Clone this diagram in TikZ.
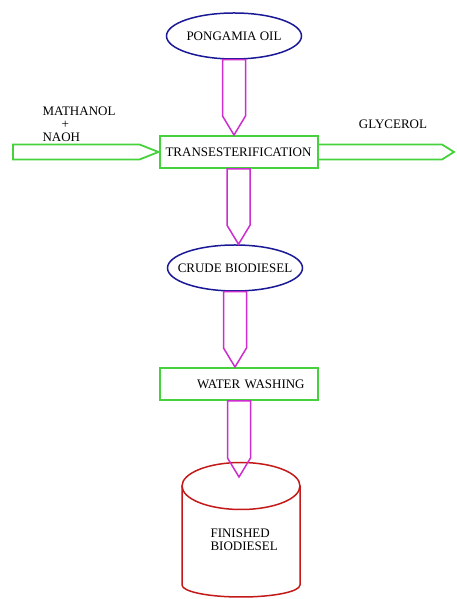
\documentclass[tikz,border=0pt]{standalone}
\usepackage{fontspec}
\setmainfont{Liberation Serif}
\usetikzlibrary{shapes.geometric,calc}

\definecolor{pipepink}{RGB}{205,45,205}
\definecolor{boxgreen}{RGB}{70,210,60}
\definecolor{tankred}{RGB}{195,25,25}
\definecolor{feedblue}{RGB}{25,25,150}

\newcommand{\flowdown}[2]{%
    \draw[flowpipe] ($(#1)+(-11.5,0)$) -- ($(#1 |- #2)+(-11.5,19)$) -- (#1 |- #2)
        -- ($(#1 |- #2)+(11.5,19)$) -- ($(#1)+(11.5,0)$) -- cycle;
}

\begin{document}
\begin{tikzpicture}[x=1pt,y=1pt,
    every node/.style={font=\fontsize{13}{13}\selectfont},
    feed/.style={draw=feedblue,line width=1.5pt,ellipse,inner sep=0pt,minimum width=135pt,minimum height=46pt},
    stage/.style={draw=boxgreen,line width=2pt,inner sep=0pt,minimum width=158pt,minimum height=32pt},
    flowpipe/.style={draw=pipepink,line width=1.5pt},
    sidepipe/.style={draw=boxgreen,line width=1.8pt}]
    \useasboundingbox (0,0) rectangle (456,599);
    \node[feed] (oil) at (234,563) {\makebox[60pt]{PONGAMIA OIL}};
    \node[stage] (trans) at (238.5,447) {TRANSESTERIFICATION};
    \node[feed] (crude) at (235,331) {\makebox[60pt]{CRUDE BIODIESEL}};
    \node[stage,text width=150pt,align=left] (wash) at (239,215) {\hspace*{33pt}WATER WASHING};
    \node[align=left,anchor=north west] (methanol) at (39,496) {MATHANOL\\\hspace*{19pt}+\\NAOH};
    \node (glycerol) at (393,475) {GLYCEROL};
    \coordinate (inlet) at (13,447);
    \coordinate (outlet) at (454,447);
    \coordinate (tanktop) at (241,122);
    % storage tank
    \draw[tankred,line width=1.5pt] (241,113) ellipse [x radius=59,y radius=23.5];
    \draw[tankred,line width=1.5pt] (182,113) -- (182,14) arc [start angle=180,end angle=360,x radius=59,y radius=12] -- (300,113);
    \node[align=left,anchor=north west] (product) at (207,74) {FINISHED\\BIODIESEL};
    % main line
    \flowdown{oil.south}{trans.north}
    \flowdown{trans.south}{crude.north}
    \flowdown{crude.south}{wash.north}
    \flowdown{wash.south}{tanktop}
    % side streams
    \draw[sidepipe] ($(inlet)+(0,7.5)$) -- ($(trans.west)+(-19,7.5)$) -- (trans.west)
        -- ($(trans.west)+(-19,-7.5)$) -- ($(inlet)+(0,-7.5)$) -- cycle;
    \draw[sidepipe] ($(trans.east)+(0,7.5)$) -- ($(outlet)+(-12,7.5)$) -- (outlet)
        -- ($(outlet)+(-12,-7.5)$) -- ($(trans.east)+(0,-7.5)$);
\end{tikzpicture}
\end{document}
